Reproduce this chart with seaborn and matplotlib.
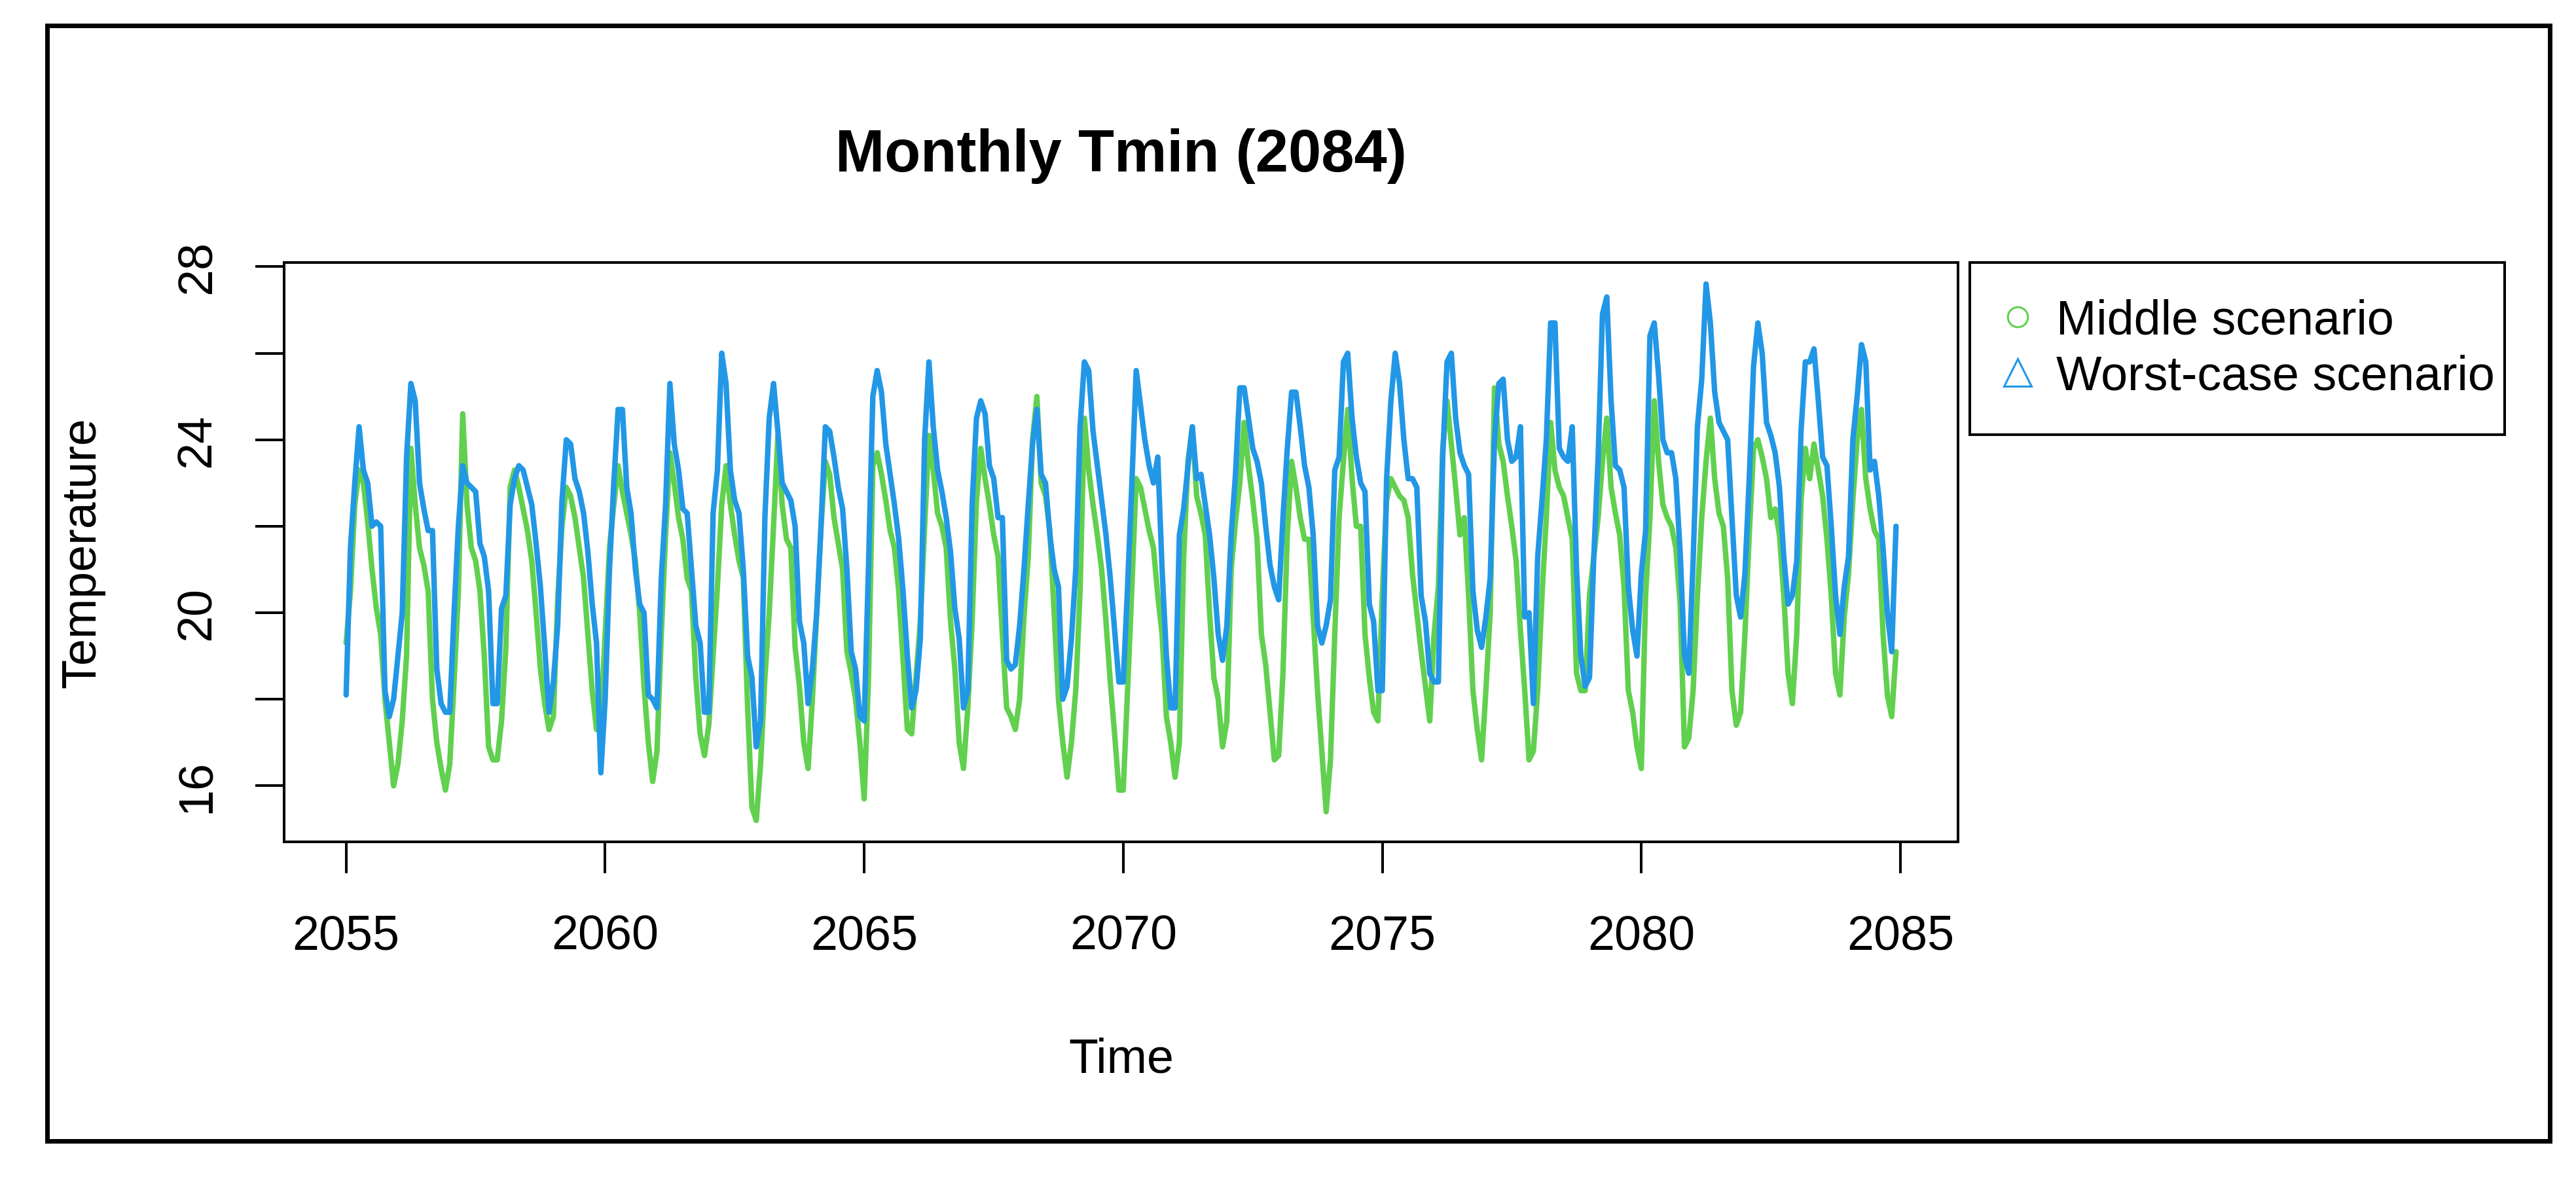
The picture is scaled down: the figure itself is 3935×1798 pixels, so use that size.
import numpy as np
import pandas as pd
import seaborn as sns
import matplotlib.pyplot as plt
from matplotlib.lines import Line2D
from matplotlib.patches import Rectangle

# ----------------------------
# Data: monthly Tmin, Jan 2055 .. Dec 2084 (one row per year)
# ----------------------------
start_year = 2055

middle = [
    19.3, 20.5, 22.5, 23.3, 23.0, 22.1, 21.0, 20.1, 19.5, 18.0, 17.0, 16.0,  # 2055
    16.5, 17.5, 19.0, 23.8, 22.5, 21.5, 21.1, 20.5, 18.0, 17.0, 16.4, 15.9,  # 2056
    16.5, 18.4, 20.5, 24.6, 22.5, 21.5, 21.2, 20.5, 19.0, 16.9, 16.6, 16.6,  # 2057
    17.5, 19.2, 22.9, 23.3, 22.9, 22.4, 21.9, 21.2, 20.0, 18.7, 17.9, 17.3,  # 2058
    17.6, 20.3, 22.0, 22.9, 22.7, 22.2, 21.5, 20.8, 19.5, 18.2, 17.3, 17.5,  # 2059
    19.5, 21.5, 22.5, 23.4, 22.8, 22.3, 21.8, 21.2, 20.0, 18.3, 17.0, 16.1,  # 2060
    16.8, 19.5, 21.8, 23.7, 23.0, 22.2, 21.7, 20.8, 20.5, 18.5, 17.2, 16.7,  # 2061
    17.4, 19.0, 20.6, 22.5, 23.4, 22.5, 21.8, 21.2, 20.8, 17.8, 15.5, 15.2,  # 2062
    16.5, 18.5, 20.0, 22.0, 24.1, 22.5, 21.7, 21.5, 19.2, 18.3, 17.0, 16.4,  # 2063
    18.0, 20.0, 22.0, 23.5, 23.2, 22.2, 21.6, 21.0, 19.1, 18.6, 18.0, 17.0,  # 2064
    15.7, 18.5, 23.4, 23.7, 23.2, 22.6, 21.9, 21.5, 20.5, 18.9, 17.3, 17.2,  # 2065
    18.5, 19.8, 22.0, 24.1, 23.3, 22.3, 22.0, 21.5, 19.8, 18.7, 17.0, 16.4,  # 2066
    17.8, 19.8, 22.6, 23.8, 23.1, 22.5, 21.8, 21.3, 19.5, 17.8, 17.6, 17.3,  # 2067
    18.0, 19.9, 21.3, 24.0, 25.0, 23.0, 22.7, 21.9, 20.0, 18.0, 17.0, 16.2,  # 2068
    17.0, 18.2, 20.5, 24.5, 23.3, 22.5, 21.8, 21.0, 19.8, 18.4, 17.2, 15.9,  # 2069
    15.9, 18.2, 20.6, 23.1, 22.9, 22.4, 21.9, 21.5, 20.4, 19.5, 17.6, 17.0,  # 2070
    16.2, 17.0, 21.3, 23.5, 24.3, 22.7, 22.3, 21.8, 20.0, 18.5, 18.0, 16.9,  # 2071
    17.5, 21.0, 22.1, 23.0, 24.4, 23.4, 22.6, 21.7, 19.5, 18.8, 17.7, 16.6,  # 2072
    16.7, 18.6, 21.8, 23.5, 22.9, 22.2, 21.7, 21.7, 19.9, 18.2, 16.8, 15.4,  # 2073
    16.6, 19.5, 22.2, 23.5, 24.7, 23.1, 22.0, 22.0, 19.5, 18.5, 17.7, 17.5,  # 2074
    20.4, 22.6, 23.1, 22.9, 22.7, 22.6, 22.2, 20.9, 20.0, 19.1, 18.3, 17.5,  # 2075
    19.5, 20.6, 23.8, 24.9, 23.9, 22.9, 21.8, 22.2, 20.4, 18.2, 17.3, 16.6,  # 2076
    18.2, 20.0, 25.2, 23.9, 23.5, 22.7, 22.0, 21.2, 19.6, 18.2, 16.6, 16.8,  # 2077
    18.2, 20.4, 22.2, 24.4, 23.3, 22.9, 22.7, 22.2, 21.7, 18.6, 18.2, 18.2,  # 2078
    20.4, 21.3, 22.2, 23.5, 24.5, 22.9, 22.3, 21.8, 20.6, 18.2, 17.7, 16.9,  # 2079
    16.4, 20.4, 22.2, 24.9, 23.5, 22.5, 22.2, 22.0, 21.5, 20.2, 16.9, 17.1,  # 2080
    18.2, 20.4, 22.2, 23.5, 24.5, 23.1, 22.3, 22.0, 20.8, 18.2, 17.4, 17.7,  # 2081
    19.5, 21.8, 23.8, 24.0, 23.6, 23.1, 22.2, 22.4, 21.8, 20.4, 18.6, 17.9,  # 2082
    19.5, 22.6, 23.8, 23.1, 23.9, 23.3, 22.7, 21.7, 20.4, 18.6, 18.1, 19.9,  # 2083
    20.9, 22.6, 24.0, 24.7, 23.1, 22.4, 21.9, 21.7, 19.5, 18.1, 17.6, 19.1,  # 2084
]

worst = [
    18.1, 21.5, 23.0, 24.3, 23.3, 23.0, 22.0, 22.1, 22.0, 18.2, 17.6, 18.0,  # 2055
    19.0, 20.0, 23.6, 25.3, 24.9, 23.0, 22.4, 21.9, 21.9, 18.7, 17.9, 17.7,  # 2056
    17.7, 20.0, 22.0, 23.4, 23.0, 22.9, 22.8, 21.6, 21.3, 20.5, 17.9, 17.9,  # 2057
    20.1, 20.4, 22.5, 23.1, 23.4, 23.3, 22.9, 22.5, 21.6, 20.6, 19.2, 17.7,  # 2058
    18.4, 19.7, 22.6, 24.0, 23.9, 23.1, 22.8, 22.3, 21.4, 20.2, 19.3, 16.3,  # 2059
    18.0, 21.0, 23.0, 24.7, 24.7, 22.9, 22.3, 21.0, 20.2, 20.0, 18.1, 18.0,  # 2060
    17.8, 20.8, 22.5, 25.3, 23.9, 23.3, 22.4, 22.3, 21.0, 19.7, 19.3, 17.7,  # 2061
    17.7, 22.3, 23.3, 26.0, 25.3, 23.3, 22.6, 22.3, 21.0, 19.0, 18.5, 16.9,  # 2062
    17.5, 22.2, 24.5, 25.3, 24.2, 23.0, 22.8, 22.6, 22.0, 19.8, 19.3, 17.9,  # 2063
    18.7, 20.0, 22.0, 24.3, 24.2, 23.6, 22.9, 22.4, 21.0, 19.1, 18.7, 17.6,  # 2064
    17.5, 21.1, 25.0, 25.6, 25.1, 23.9, 23.2, 22.5, 21.7, 20.5, 19.0, 17.8,  # 2065
    18.2, 19.4, 24.0, 25.8, 24.3, 23.3, 22.8, 22.2, 21.4, 20.1, 19.4, 17.8,  # 2066
    18.2, 22.5, 24.5, 24.9, 24.6, 23.4, 23.1, 22.2, 22.2, 18.9, 18.7, 18.8,  # 2067
    19.7, 21.0, 22.5, 23.9, 24.7, 23.2, 23.0, 21.8, 21.0, 20.6, 18.0, 18.3,  # 2068
    19.4, 21.0, 24.3, 25.8, 25.6, 24.2, 23.4, 22.6, 21.8, 20.8, 19.6, 18.4,  # 2069
    18.4, 20.6, 23.0, 25.6, 24.8, 24.0, 23.4, 23.0, 23.6, 21.0, 19.0, 17.8,  # 2070
    17.8, 21.8, 22.4, 23.4, 24.3, 23.1, 23.2, 22.5, 21.8, 20.8, 19.5, 18.9,  # 2071
    19.7, 21.8, 23.2, 25.2, 25.2, 24.5, 23.8, 23.5, 23.0, 22.0, 21.1, 20.6,  # 2072
    20.3, 22.2, 23.8, 25.1, 25.1, 24.3, 23.4, 22.9, 21.8, 19.7, 19.3, 19.7,  # 2073
    20.3, 23.3, 23.6, 25.8, 26.0, 24.5, 23.6, 23.0, 22.8, 20.2, 19.8, 18.2,  # 2074
    18.2, 23.1, 24.9, 26.0, 25.3, 24.0, 23.1, 23.1, 22.9, 20.4, 19.8, 18.6,  # 2075
    18.4, 18.4, 23.6, 25.8, 26.0, 24.5, 23.7, 23.4, 23.2, 20.5, 19.6, 19.2,  # 2076
    19.9, 20.8, 24.0, 25.3, 25.4, 24.0, 23.5, 23.6, 24.3, 19.9, 20.0, 17.9,  # 2077
    21.3, 22.6, 24.0, 26.7, 26.7, 23.8, 23.6, 23.5, 24.3, 21.0, 19.0, 18.3,  # 2078
    18.5, 21.3, 23.6, 26.9, 27.3, 24.9, 23.4, 23.3, 22.9, 20.6, 19.6, 19.0,  # 2079
    20.9, 21.9, 26.4, 26.7, 25.5, 24.0, 23.7, 23.7, 23.1, 21.4, 19.0, 18.6,  # 2080
    21.2, 24.3, 25.4, 27.6, 26.7, 25.1, 24.4, 24.2, 24.0, 22.2, 20.4, 19.9,  # 2081
    20.9, 23.1, 25.7, 26.7, 26.0, 24.4, 24.1, 23.7, 22.9, 21.3, 20.2, 20.4,  # 2082
    21.2, 24.2, 25.8, 25.8, 26.1, 24.9, 23.6, 23.4, 22.0, 20.4, 19.5, 20.6,  # 2083
    21.3, 24.0, 25.0, 26.2, 25.8, 23.3, 23.5, 22.7, 21.5, 20.0, 19.1, 22.0,  # 2084
]

series_names = ["Middle scenario", "Worst-case scenario"]
x_ticks = [2055, 2060, 2065, 2070, 2075, 2080, 2085]
y_ticks = [16, 20, 24, 28]
y_minor = [18, 22, 26]

# ----------------------------
# Setup
# ----------------------------
GREEN = "#61D04F"
BLUE = "#2297E6"

sns.set_style("ticks")
plt.rcParams["font.family"] = ["Liberation Sans", "DejaVu Sans"]
plt.rcParams["text.color"] = "black"
plt.rcParams["axes.labelcolor"] = "black"

time = start_year + np.arange(len(middle)) / 12.0
df = pd.DataFrame({"Time": time, "middle": middle, "worst": worst})

fig = plt.figure(figsize=(39.35, 17.99), dpi=100)
ax = fig.add_axes([0.1103, 0.2846, 0.6498, 0.4919])

sns.lineplot(data=df, x="Time", y="middle", color=GREEN, lw=6, ax=ax)
sns.lineplot(data=df, x="Time", y="worst", color=BLUE, lw=6, ax=ax)

# R-style 4% padding of data range
t0, t1 = df["Time"].min(), df["Time"].max()
vals = np.concatenate([middle, worst])
v0, v1 = vals.min(), vals.max()
ax.set_xlim(t0 - 0.04 * (t1 - t0), t1 + 0.04 * (t1 - t0))
ax.set_ylim(v0 - 0.04 * (v1 - v0), v1 + 0.04 * (v1 - v0))

ax.set_xticks(x_ticks)
ax.set_xticklabels([str(v) for v in x_ticks])
ax.set_yticks(y_ticks)
ax.set_yticklabels([str(v) for v in y_ticks])
ax.set_yticks(y_minor, minor=True)

for s in ax.spines.values():
    s.set_visible(True)
    s.set_color("black")
    s.set_linewidth(2.9)

ax.tick_params(axis="x", which="major", length=34.6, width=2.9, pad=44, labelsize=53,
               colors="black")
ax.tick_params(axis="y", which="both", length=32, width=2.9, pad=39, labelsize=53,
               colors="black")
ax.tick_params(axis="y", which="minor", labelleft=False)
for lab in ax.get_yticklabels():
    lab.set_rotation(90)
    lab.set_va("center")

ax.set_xlabel("Time", fontsize=53, labelpad=86)
ax.set_ylabel("Temperature", fontsize=53, labelpad=76)
ax.set_title("Monthly Tmin (2084)", fontsize=65, fontweight="bold", pad=101)

# legend outside plot, top right (box width fixed to the reference)
handles = [
    Line2D([], [], linestyle="none", marker="o", markersize=22, markerfacecolor="none",
           markeredgecolor=GREEN, markeredgewidth=2.2),
    Line2D([], [], linestyle="none", marker="^", markersize=30, markerfacecolor="none",
           markeredgecolor=BLUE, markeredgewidth=2.2),
]
leg_x0, leg_x1, leg_top = 3009 / 3935, 3826 / 3935, 1 - 402 / 1799
leg = fig.legend(handles, series_names, loc="upper left", mode="expand",
                 bbox_to_anchor=(leg_x0, leg_top - 0.01, leg_x1 - leg_x0, 0.01),
                 bbox_transform=fig.transFigure,
                 fontsize=53, frameon=True, fancybox=False, framealpha=1, edgecolor="black",
                 borderpad=0.74, labelspacing=0.22, handlelength=0.5, handletextpad=0.55,
                 borderaxespad=0)
leg.get_frame().set_linewidth(2.9)

# outer frame
fig.patches.append(Rectangle((0.0182, 0.0306), 0.9716, 0.9472, transform=fig.transFigure,
                             fill=False, edgecolor="black", linewidth=5))

fig.savefig("out.png", dpi=100, facecolor="white")
plt.close(fig)
